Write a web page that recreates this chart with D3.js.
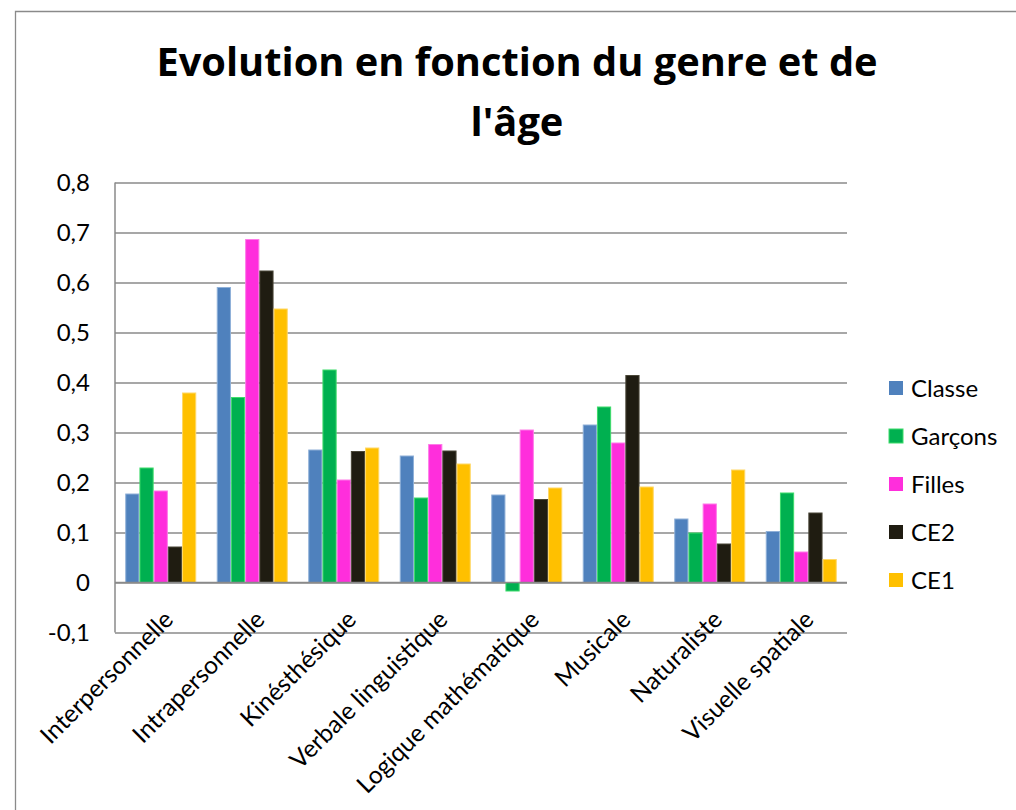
<!DOCTYPE html>
<html><head><meta charset="utf-8">
<script src="https://cdn.jsdelivr.net/npm/d3@7/dist/d3.min.js"></script>
<style>body{margin:0;background:#fff;}svg{display:block;font-family:Lato,"Open Sans",sans-serif;}</style>
</head><body>
<svg id="c" width="1016" height="810"></svg>
<script>
const categories = ["Interpersonnelle","Intrapersonnelle","Kinésthésique","Verbale linguistique","Logique mathématique","Musicale","Naturaliste","Visuelle spatiale"];
const seriesNames = ["Classe","Garçons","Filles","CE2","CE1"];
const classe  = [0.177,0.590,0.265,0.253,0.175,0.315,0.127,0.102];
const garcons = [0.229,0.370,0.425,0.169,-0.017,0.351,0.099,0.179];
const filles  = [0.183,0.686,0.205,0.276,0.305,0.279,0.157,0.061];
const ce2     = [0.071,0.623,0.262,0.263,0.166,0.414,0.077,0.139];
const ce1     = [0.379,0.547,0.269,0.237,0.189,0.191,0.225,0.046];
const yTicks = [-0.1,0,0.1,0.2,0.3,0.4,0.5,0.6,0.7,0.8];
const yTickLabels = ["-0,1","0","0,1","0,2","0,3","0,4","0,5","0,6","0,7","0,8"];
const titleLines = ["Evolution en fonction du genre et de","l'âge"];

const seriesValues = [classe, garcons, filles, ce2, ce1];
const fills = ["#4F81BD","#00B050","#FF2EDC","#1F1C11","#FFC000"];
const strokes = ["#8fb0d8","#3ddc6a","#ff7ae8","#4a4738","#ffd866"];

const svg = d3.select("#c");

// outer frame
svg.append("path").attr("d","M15.5,810 L15.5,11.5 L1016,11.5").attr("fill","none").attr("stroke","#8a8a8a").attr("stroke-width",1.3);

// title
svg.selectAll("text.title").data(titleLines).join("text")
  .attr("class","title")
  .attr("x",517).attr("y",(d,i)=>76+i*60)
  .attr("text-anchor","middle")
  .attr("font-family","'Open Sans',sans-serif")
  .attr("font-weight","bold").attr("font-size",39.8).attr("fill","#000")
  .text(d=>d);

const x0 = d3.scaleBand().domain(categories).range([115,847]).paddingInner(0.224).paddingOuter(0.112);
const x1 = d3.scaleBand().domain(seriesNames).range([0,x0.bandwidth()]);
const y = d3.scaleLinear().domain([-0.1,0.8]).range([632.5,182.5]);

// gridlines
const yAxis = d3.axisLeft(y).tickValues(yTicks).tickSize(-(847-115))
  .tickFormat((d,i)=>yTickLabels[i]).tickPadding(25);
const g = svg.append("g").attr("transform","translate(115,0)").call(yAxis);
g.select(".domain").remove();
g.selectAll(".tick line").attr("stroke","#8a8a8a").attr("stroke-width",1.5);
g.selectAll(".tick text").attr("font-size",24).attr("fill","#000").attr("font-family","Lato,sans-serif");
// y axis line
svg.append("line").attr("x1",115).attr("x2",115).attr("y1",y(0.8)).attr("y2",y(-0.1)).attr("stroke","#8a8a8a").attr("stroke-width",1.5);

// bars
const groups = svg.append("g").selectAll("g").data(categories).join("g")
  .attr("transform",d=>`translate(${x0(d)},0)`);
groups.selectAll("rect").data((d,ci)=>seriesNames.map((s,si)=>({s,si,v:seriesValues[si][ci]}))).join("rect")
  .attr("x",d=>x1(d.s)+0.5).attr("width",x1.bandwidth()-1)
  .attr("y",d=>y(Math.max(0,d.v))).attr("height",d=>Math.abs(y(d.v)-y(0)))
  .attr("fill",d=>fills[d.si]).attr("stroke",d=>strokes[d.si]).attr("stroke-width",1);

// zero line on top
svg.append("line").attr("x1",115).attr("x2",847).attr("y1",y(0)).attr("y2",y(0)).attr("stroke","#8a8a8a").attr("stroke-width",1.5);

// x labels
svg.append("g").selectAll("text").data(categories).join("text")
  .attr("transform",d=>`translate(${x0(d)+x0.bandwidth()/2+14},621) rotate(-45)`)
  .attr("text-anchor","end").attr("font-size",24.5).attr("fill","#000")
  .text(d=>d);

// legend
const leg = svg.append("g").selectAll("g").data(seriesNames).join("g")
  .attr("transform",(d,i)=>`translate(889,${388+i*48})`);
leg.append("rect").attr("x",0).attr("y",-7).attr("width",14).attr("height",14)
  .attr("fill",(d,i)=>fills[i]).attr("stroke",(d,i)=>i===1?strokes[1]:"none").attr("stroke-width",1);
leg.append("text").attr("x",22).attr("y",8.5).attr("font-size",24).attr("fill","#000").text(d=>d);
</script>
</body></html>
